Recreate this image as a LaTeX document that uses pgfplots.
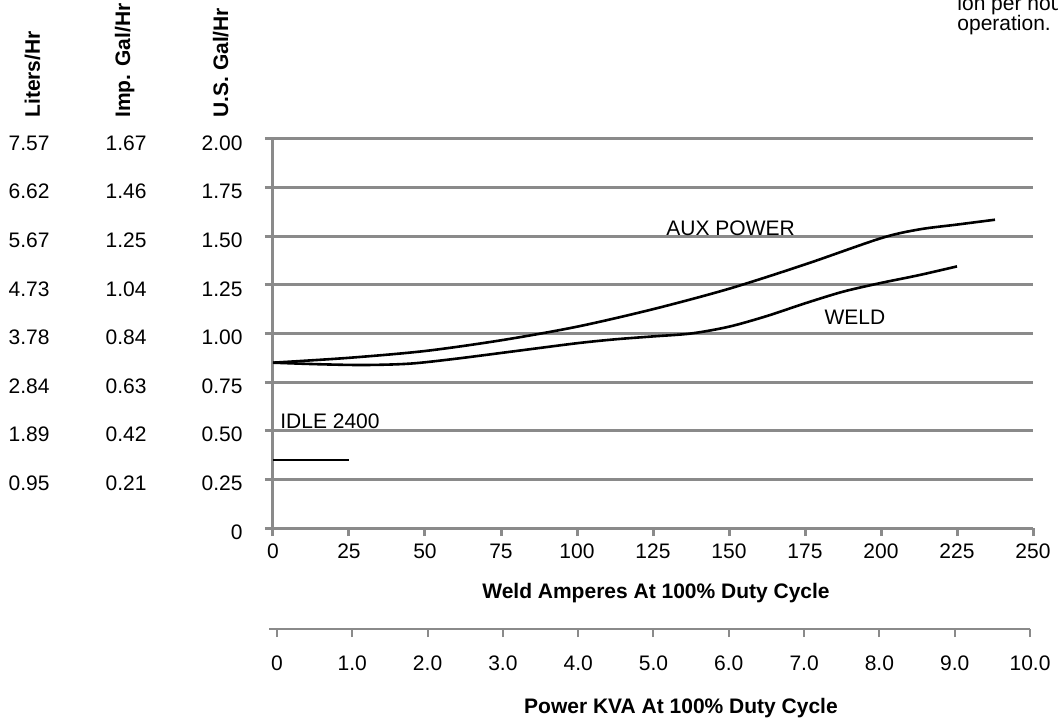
\documentclass[border=0pt]{standalone}
\usepackage{pgfplots}
\pgfplotsset{compat=1.18}
\usepackage{fontspec}
\setmainfont{Liberation Sans}
\definecolor{axgray}{RGB}{138,138,138}
\newcommand\trip[3]{\makebox[20pt][r]{#1}\makebox[48.5pt][r]{#2}\makebox[48pt][r]{#3}}
\newcommand\fs{\fontsize{10.5}{12}\selectfont}
\begin{document}
\begin{tikzpicture}[font=\fs]
\begin{axis}[
  at={(0pt,0pt)}, anchor=south west,
  scale only axis, width=380pt, height=194.5pt,
  xmin=0, xmax=250, ymin=0, ymax=2,
  axis x line=bottom, axis y line=left,
  axis line style={-, draw=axgray, line width=1.5pt},
  xtick={0,25,...,250},
  xticklabels={0,25,50,75,100,125,150,175,200,225,250},
  ytick={0,0.25,0.5,0.75,1,1.25,1.5,1.75,2},
  yticklabels={\trip{}{}{0},\trip{0.95}{0.21}{0.25},\trip{1.89}{0.42}{0.50},\trip{2.84}{0.63}{0.75},\trip{3.78}{0.84}{1.00},\trip{4.73}{1.04}{1.25},\trip{5.67}{1.25}{1.50},\trip{6.62}{1.46}{1.75},\trip{7.57}{1.67}{2.00}},
  tick align=outside, major tick length=4pt,
  tick style={draw=axgray, line width=1.5pt},
  ymajorgrids, grid style={draw=axgray, line width=1.5pt},
  every tick label/.append style={font=\fs},
  xticklabel style={anchor=base, inner sep=0pt, yshift=-11.3pt},
  yticklabel style={anchor=east, inner sep=0pt, xshift=-11pt, yshift=-2pt},
  clip=false,
]
\addplot[black, line width=1.3pt, smooth, tension=0.5] coordinates {
 (0,0.85) (25,0.875) (50,0.91) (75,0.965) (100,1.035) (125,1.125) (150,1.23) (175,1.355) (200,1.49) (212.5,1.535) (225,1.56) (237.5,1.585)};
\addplot[black, line width=1.3pt, smooth, tension=0.5] coordinates {
 (0,0.85) (15,0.842) (30,0.838) (45,0.845) (60,0.87) (80,0.91) (100,0.95) (112.5,0.97) (125,0.985) (137.5,1.0) (150,1.035) (162.5,1.09) (175,1.155) (187.5,1.215) (200,1.26) (212.5,1.30) (225,1.345)};
\addplot[black, line width=1.3pt] coordinates {(0,0.35) (25,0.35)};
\node[anchor=base west, inner sep=0pt] at (axis cs:2.3,0.514) {IDLE 2400};
\node[anchor=base west, inner sep=0pt] at (axis cs:129.3,1.506) {AUX POWER};
\node[anchor=base west, inner sep=0pt] at (axis cs:181.3,1.044) {WELD};
\end{axis}
\begin{axis}[
  at={(-2pt,-50.5pt)}, anchor=south west,
  scale only axis, width=380.5pt, height=10pt,
  xmin=-0.106, xmax=10, ymin=0, ymax=1,
  hide y axis, axis x line*=bottom,
  axis line style={-, draw=axgray, line width=1pt},
  xtick={0,1,...,10},
  xticklabels={0,1.0,2.0,3.0,4.0,5.0,6.0,7.0,8.0,9.0,10.0},
  tick align=outside, major tick length=4pt,
  tick style={draw=axgray, line width=1pt},
  every tick label/.append style={font=\fs},
  xticklabel style={anchor=base, inner sep=0pt, yshift=-16.8pt},
]
\end{axis}
\node[anchor=base, font=\fs\bfseries, inner sep=0pt] at (191.5pt,-35pt) {Weld Amperes At 100\% Duty Cycle};
\node[anchor=base, font=\fs\bfseries, inner sep=0pt] at (204pt,-92.5pt) {Power KVA At 100\% Duty Cycle};
\node[anchor=base west, rotate=90, font=\fs\bfseries, inner sep=0pt] at (-116.5pt,205pt) {Liters/Hr};
\node[anchor=base west, rotate=90, font=\fs\bfseries, inner sep=0pt] at (-71.5pt,205pt) {Imp. Gal/Hr};
\node[anchor=base west, rotate=90, font=\fs\bfseries, inner sep=0pt] at (-22.5pt,205pt) {U.S. Gal/Hr};
\node[anchor=base west, inner sep=0pt] at (342pt,258.5pt) {lon per hour};
\node[anchor=base west, inner sep=0pt] at (342pt,248.5pt) {operation.};
\pgfresetboundingbox
\useasboundingbox (-136.5pt,-94.5pt) rectangle (392.5pt,264pt);
\end{tikzpicture}
\end{document}
